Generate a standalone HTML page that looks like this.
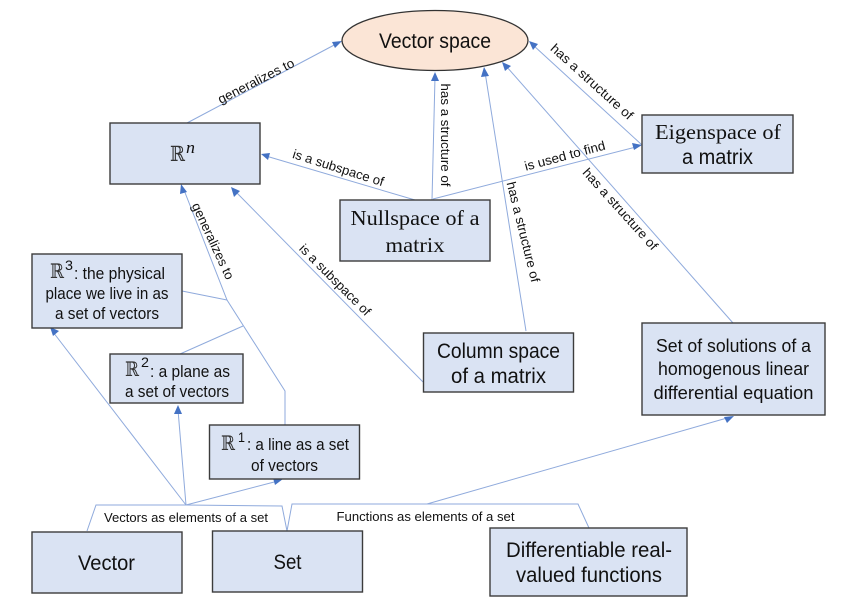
<!DOCTYPE html>
<html>
<head>
<meta charset="utf-8">
<style>
html,body{margin:0;padding:0;background:#fff}
svg{display:block}
text{font-family:"Liberation Sans",sans-serif;fill:#111}
.l{font-size:13px}
.b{font-size:16.5px}
.c{font-size:21px}
.h{font-size:18.5px}
.s{font-family:"Liberation Serif",serif;font-size:21px}
.m{font-family:"DejaVu Serif",serif;fill:#333}
.i{font-family:"Liberation Serif",serif;font-style:italic}
rect{fill:#dae3f3;stroke:#3c3c3c;stroke-width:1.4}
.w{fill:none;stroke:#8faadc;stroke-width:1}
.a{fill:#4472c4;stroke:none}
</style>
</head>
<body>
<svg width="867" height="606" viewBox="0 0 867 606" xmlns="http://www.w3.org/2000/svg">
<rect x="0" y="0" width="867" height="606" style="fill:#fff;stroke:none"/>

<!-- connector lines -->
<g class="w">
<path d="M187 123L338 43"/>
<path d="M415 200L266 156"/>
<path d="M432 200L435 77"/>
<path d="M433 199L636 147"/>
<path d="M526 331L485 72"/>
<path d="M642 145L533 45"/>
<path d="M733 323L506 66"/>
<path d="M285 425V391L227 300L184 190"/>
<path d="M182 291L227 300"/>
<path d="M180 354L243 326"/>
<path d="M423 382L235 191"/>
<path d="M87 531L96 505H186L282 506L287 531"/>
<path d="M186 505L53 332"/>
<path d="M186 505L178 410"/>
<path d="M186 505L278 481"/>
<path d="M287 531L292 504H578L589 528"/>
<path d="M427 504L727 418"/>
</g>

<!-- arrowheads -->
<g class="a">
<polygon points="342,41 335,48 332,42"/>
<polygon points="261,154 270,153 268,160"/>
<polygon points="435,72 439,81 431,81"/>
<polygon points="642,145 634,150 632,143"/>
<polygon points="484,67 489,76 481,77"/>
<polygon points="529,41 538,44 533,50"/>
<polygon points="502,62 511,66 505,71"/>
<polygon points="181,184 187,192 180,194"/>
<polygon points="231,187 240,191 234,197"/>
<polygon points="50,327 59,331 53,336"/>
<polygon points="178,405 182,414 174,414"/>
<polygon points="283,479 275,485 273,478"/>
<polygon points="734,416 727,423 724,417"/>
</g>

<!-- ellipse -->
<ellipse cx="435" cy="40.5" rx="93" ry="30" fill="#fbe5d6" stroke="#333" stroke-width="1.3"/>
<text class="c" x="435" y="48" text-anchor="middle" textLength="112" lengthAdjust="spacingAndGlyphs">Vector space</text>

<!-- boxes -->
<rect x="110" y="123" width="150" height="61"/>
<rect x="340" y="200" width="150" height="61"/>
<rect x="642" y="115" width="151" height="58"/>
<rect x="32" y="254" width="150" height="74"/>
<rect x="110" y="354" width="133" height="49"/>
<rect x="209.500" y="425" width="150" height="54"/>
<rect x="32" y="532" width="150" height="61"/>
<rect x="212.500" y="531" width="150" height="61"/>
<rect x="490" y="528" width="197" height="68"/>
<rect x="423.500" y="333" width="150" height="59"/>
<rect x="642" y="323" width="183" height="92"/>

<!-- box text -->
<text class="m" x="170" y="161" font-size="21" textLength="15" lengthAdjust="spacingAndGlyphs">ℝ</text>
<text class="i" x="186" y="153" font-size="17" textLength="9" lengthAdjust="spacingAndGlyphs">n</text>

<text class="s" x="415" y="225" text-anchor="middle" textLength="129" lengthAdjust="spacingAndGlyphs">Nullspace of a</text>
<text class="s" x="415" y="252" text-anchor="middle" textLength="59" lengthAdjust="spacingAndGlyphs">matrix</text>

<text class="s" x="718" y="139" text-anchor="middle" textLength="126" lengthAdjust="spacingAndGlyphs">Eigenspace of</text>
<text class="c" x="717.500" y="164" text-anchor="middle" textLength="71" lengthAdjust="spacingAndGlyphs">a matrix</text>

<text class="m" x="50" y="278" font-size="20" textLength="14" lengthAdjust="spacingAndGlyphs">ℝ</text>
<text x="65" y="270" font-size="14" textLength="8" lengthAdjust="spacingAndGlyphs">3</text>
<text class="b" x="74" y="279" textLength="91" lengthAdjust="spacingAndGlyphs">: the physical</text>
<text class="b" x="107" y="299" text-anchor="middle" textLength="123" lengthAdjust="spacingAndGlyphs">place we live in as</text>
<text class="b" x="107" y="319" text-anchor="middle" textLength="104" lengthAdjust="spacingAndGlyphs">a set of vectors</text>

<text class="m" x="125" y="376" font-size="20" textLength="14" lengthAdjust="spacingAndGlyphs">ℝ</text>
<text x="141" y="367" font-size="14" textLength="8" lengthAdjust="spacingAndGlyphs">2</text>
<text class="b" x="150" y="377" textLength="80" lengthAdjust="spacingAndGlyphs">: a plane as</text>
<text class="b" x="177" y="397" text-anchor="middle" textLength="104" lengthAdjust="spacingAndGlyphs">a set of vectors</text>

<text class="m" x="221" y="450" font-size="20" textLength="14" lengthAdjust="spacingAndGlyphs">ℝ</text>
<text x="238" y="442" font-size="14" textLength="7" lengthAdjust="spacingAndGlyphs">1</text>
<text class="b" x="247" y="450" textLength="102" lengthAdjust="spacingAndGlyphs">: a line as a set</text>
<text class="b" x="284.500" y="471" text-anchor="middle" textLength="67" lengthAdjust="spacingAndGlyphs">of vectors</text>

<text class="c" x="106.500" y="570" text-anchor="middle" textLength="57" lengthAdjust="spacingAndGlyphs">Vector</text>
<text class="c" x="287.500" y="569" text-anchor="middle" textLength="28" lengthAdjust="spacingAndGlyphs">Set</text>

<text class="c" x="589" y="557" text-anchor="middle" textLength="166" lengthAdjust="spacingAndGlyphs">Differentiable real-</text>
<text class="c" x="589" y="582" text-anchor="middle" textLength="146" lengthAdjust="spacingAndGlyphs">valued functions</text>

<text class="c" x="498.500" y="358" text-anchor="middle" textLength="123" lengthAdjust="spacingAndGlyphs">Column space</text>
<text class="c" x="498.500" y="383" text-anchor="middle" textLength="95" lengthAdjust="spacingAndGlyphs">of a matrix</text>

<text class="h" x="733.500" y="352" text-anchor="middle" textLength="155" lengthAdjust="spacingAndGlyphs">Set of solutions of a</text>
<text class="h" x="733.500" y="375" text-anchor="middle" textLength="151" lengthAdjust="spacingAndGlyphs">homogenous linear</text>
<text class="h" x="733.500" y="399" text-anchor="middle" textLength="160" lengthAdjust="spacingAndGlyphs">differential equation</text>

<!-- connector labels -->
<g class="l" text-anchor="middle">
<text transform="translate(258,85) rotate(-27)" textLength="84" lengthAdjust="spacingAndGlyphs">generalizes to</text>
<text transform="translate(337,172) rotate(17.500)" textLength="95" lengthAdjust="spacingAndGlyphs">is a subspace of</text>
<text transform="translate(441,135) rotate(90)" textLength="103" lengthAdjust="spacingAndGlyphs">has a structure of</text>
<text transform="translate(566,160) rotate(-15)" textLength="83" lengthAdjust="spacingAndGlyphs">is used to find</text>
<text transform="translate(519,233) rotate(76)" textLength="103" lengthAdjust="spacingAndGlyphs">has a structure of</text>
<text transform="translate(617,212) rotate(48)" textLength="105" lengthAdjust="spacingAndGlyphs">has a structure of</text>
<text transform="translate(589,85) rotate(42)" textLength="106" lengthAdjust="spacingAndGlyphs">has a structure of</text>
<text transform="translate(209,243) rotate(65)" textLength="83" lengthAdjust="spacingAndGlyphs">generalizes to</text>
<text transform="translate(332,283) rotate(45)" textLength="95" lengthAdjust="spacingAndGlyphs">is a subspace of</text>
<text x="186" y="522" textLength="164" lengthAdjust="spacingAndGlyphs">Vectors as elements of a set</text>
<text x="425.500" y="521" textLength="178" lengthAdjust="spacingAndGlyphs">Functions as elements of a set</text>
</g>
</svg>
</body>
</html>
